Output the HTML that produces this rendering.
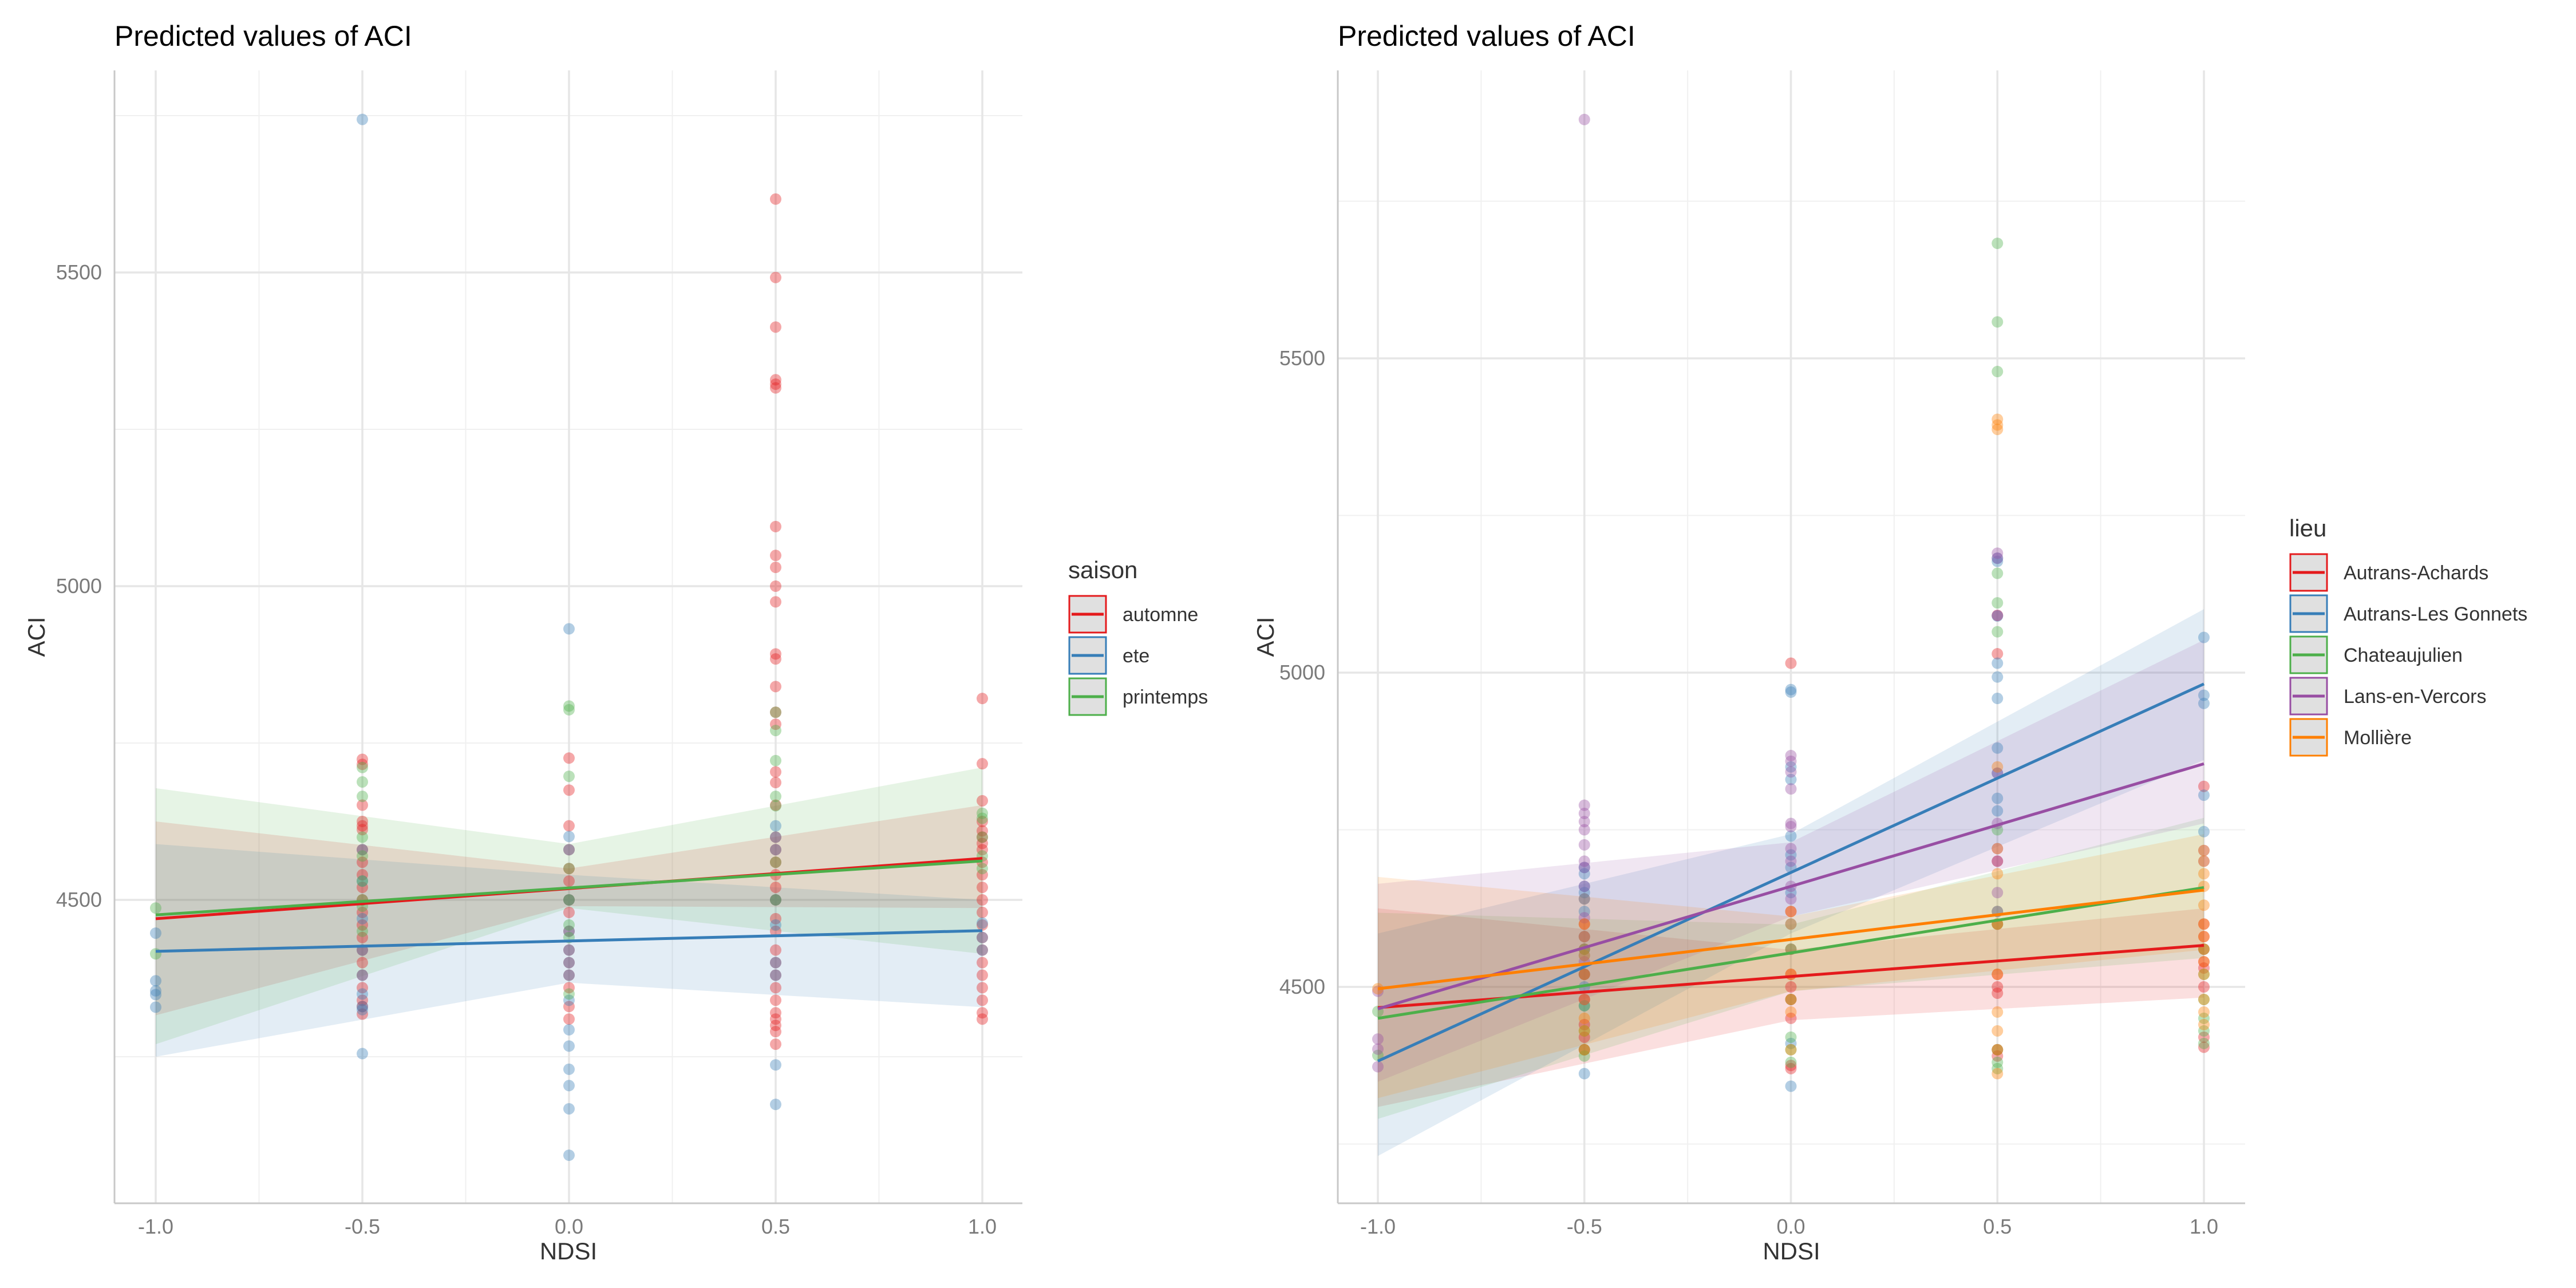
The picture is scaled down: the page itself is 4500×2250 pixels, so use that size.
<!DOCTYPE html>
<html><head><meta charset="utf-8"><style>
html,body{margin:0;padding:0;background:#fff}
svg{display:block;font-family:"Liberation Sans",sans-serif}
</style></head><body>
<svg id="chart" width="4500" height="2250" viewBox="0 0 4500 2250"></svg>
<script>
const xCats = [-1, -0.5, 0, 0.5, 1];
const xTickLabels = ["-1.0","-0.5","0.0","0.5","1.0"];
const yTickValues = [4500, 5000, 5500];
const yTickLabels = ["4500","5000","5500"];
const yMinorValues = [4250, 4750, 5250, 5750];

// LEFT: saison
const leftSeries = ["automne","ete","printemps"];
const leftColors = ["#E41A1C","#377EB8","#4DAF4A"];
const leftPredStart = [4470, 4418, 4476];
const leftPredEnd = [4566, 4451, 4562];
const leftUpper = [[4625,4550,4651],[4589,4540,4500],[4678,4589,4711]];
const leftLower = [[4316,4490,4487],[4250,4368,4329],[4270,4487,4414]];
const automnePts = [[],
 [4724,4716,4651,4625,4618,4612,4580,4560,4540,4520,4500,4480,4460,4440,4420,4400,4380,4360,4340,4330,4318],
 [4726,4675,4618,4580,4550,4530,4500,4480,4450,4420,4400,4380,4360,4330,4310],
 [5617,5492,5413,5329,5322,5316,5095,5049,5030,5000,4975,4892,4884,4840,4799,4780,4704,4687,4651,4600,4580,4560,4540,4520,4500,4470,4450,4420,4400,4380,4360,4340,4320,4310,4300,4290,4270],
 [4821,4717,4658,4625,4610,4600,4590,4580,4560,4540,4520,4500,4480,4460,4440,4420,4400,4380,4360,4340,4320,4310]];
const etePts = [[4447,4371,4355,4349,4329],
 [5744,4580,4530,4470,4420,4380,4350,4330,4325,4255],
 [4932,4601,4580,4500,4450,4420,4400,4380,4340,4293,4267,4230,4204,4167,4093],
 [4618,4600,4580,4500,4460,4400,4380,4237,4174],
 [4463,4440,4420]];
const printempsPts = [[4487,4414],
 [4711,4688,4665,4600,4570,4530,4500,4490,4450],
 [4809,4803,4697,4550,4500,4460,4440,4350],
 [4799,4770,4722,4665,4650,4560,4500],
 [4638,4630,4600,4570,4550]];
const leftPts = [automnePts, etePts, printempsPts];

// RIGHT: lieu
const rightSeries = ["Autrans-Achards","Autrans-Les Gonnets","Chateaujulien","Lans-en-Vercors","Mollière"];
const rightColors = ["#E41A1C","#377EB8","#4DAF4A","#984EA3","#FF7F00"];
const rightPredStart = [4467, 4382, 4450, 4465, 4497];
const rightPredEnd = [4566, 4982, 4658, 4855, 4654];
const rightUpper = [[4625,4559,4625],[4585,4743,5101],[4618,4599,4769],[4664,4730,5052],[4675,4612,4743]];
const rightLower = [[4309,4447,4483],[4231,4585,4861],[4290,4493,4546],[4349,4612,4760],[4323,4493,4559]];
const achardsPts = [[], [4600,4560,4520,4480,4440,4420,4400],
 [5015,4620,4560,4520,4500,4480,4450,4375,4370],
 [5091,5030,4700,4600,4520,4500,4490,4400,4390],
 [4819,4600,4580,4560,4540,4530,4500,4420,4404]];
const gonnetsPts = [[], [4690,4680,4660,4650,4620,4580,4550,4500,4470,4362],
 [4973,4969,4850,4830,4740,4710,4690,4650,4600,4410,4342],
 [5182,5177,5090,5015,4993,4959,4880,4840,4800,4780],
 [5056,4964,4951,4805,4747]];
const chateauPts = [[4461,4391], [4640,4560,4520,4470,4430,4400,4390],
 [4560,4480,4420,4400,4380],
 [5683,5558,5479,5158,5111,5065,4750,4620,4600,4400,4380,4370],
 [4560,4520,4480,4450,4430,4410]];
const lansPts = [[4493,4417,4401,4373], [5880,4789,4776,4763,4750,4726,4700,4690,4660,4640,4610,4580,4540,4520,4480],
 [4868,4859,4842,4815,4760,4755,4720,4700,4660,4640],
 [5190,5182,5091,4840,4760,4720,4700,4650,4620],
 [4717,4700]];
const molliereePts = [[4497], [4600,4580,4550,4520,4480,4450,4430,4400],
 [4620,4600,4520,4480,4460,4400],
 [5403,5394,5387,4850,4720,4680,4600,4520,4460,4430,4400,4362],
 [4717,4700,4680,4660,4630,4600,4580,4560,4540,4520,4480,4460,4440]];
const rightPts = [achardsPts, gonnetsPts, chateauPts, lansPts, molliereePts];

const NS = "http://www.w3.org/2000/svg";
const svg = document.getElementById("chart");
function mk(tag, attrs, parent) {
  const e = document.createElementNS(NS, tag);
  for (const k in attrs) e.setAttribute(k, attrs[k]);
  (parent || svg).appendChild(e);
  return e;
}

function panel(cfg) {
  const g = mk("g", {});
  
  
  const xs = v => cfg.x0 + (v + 1) / 2 * (cfg.x1 - cfg.x0);
  const ys = v => cfg.y4500 - (v - 4500) * cfg.k;
  [-0.75,-0.25,0.25,0.75].forEach(v => {
    const l = mk("line", {x1: xs(v), x2: xs(v), y1: cfg.top, y2: cfg.bottom, stroke: "#f0f0f0", "stroke-width": 2}, g);
    
    
  });
  yMinorValues.forEach(v => {
    const y = ys(v); if (y < cfg.top || y > cfg.bottom) return;
    const l = mk("line", {x1: cfg.left, x2: cfg.right, y1: y, y2: y, stroke: "#f0f0f0", "stroke-width": 2}, g);
    
    
  });
  xCats.forEach((v, i) => {
    const l = mk("line", {x1: xs(v), x2: xs(v), y1: cfg.top, y2: cfg.bottom, stroke: "#e6e6e6", "stroke-width": 3.5}, g);
    
    
    const t = mk("text", {x: xs(v), y: 2155, "text-anchor": "middle", "font-size": 36, fill: "#7a7a7a"}, g);
    t.textContent = xTickLabels[i];
    
    
  });
  yTickValues.forEach((v, i) => {
    const y = ys(v);
    const l = mk("line", {x1: cfg.left, x2: cfg.right, y1: y, y2: y, stroke: "#e6e6e6", "stroke-width": 3.5}, g);
    
    
    const t = mk("text", {x: cfg.left - 22, y: y + 12, "text-anchor": "end", "font-size": 36, fill: "#7a7a7a"}, g);
    t.textContent = yTickLabels[i];
    
    
  });
  const bx = [-1, 0, 1];
  cfg.series.forEach((s, i) => {
    let d = "";
    bx.forEach((v, j) => d += (j ? "L" : "M") + xs(v) + "," + ys(cfg.upper[i][j]));
    for (let j = 2; j >= 0; j--) d += "L" + xs(bx[j]) + "," + ys(cfg.lower[i][j]);
    const p = mk("path", {d: d + "Z", fill: cfg.colors[i], "fill-opacity": 0.14}, g);
    
    
  });
  cfg.series.forEach((s, i) => {
    cfg.pts[i].forEach((vals, j) => {
      vals.forEach(v => {
        const c = mk("circle", {cx: xs(xCats[j]), cy: ys(v), r: 10, fill: cfg.colors[i], "fill-opacity": 0.38}, g);
        
        
      });
    });
  });
  cfg.series.forEach((s, i) => {
    const l = mk("line", {x1: xs(-1), y1: ys(cfg.start[i]), x2: xs(1), y2: ys(cfg.end[i]), stroke: cfg.colors[i], "stroke-width": 5}, g);
    
    
  });
  const ax = mk("line", {x1: cfg.left, x2: cfg.left, y1: cfg.top, y2: cfg.bottom, stroke: "#c8c8c8", "stroke-width": 3}, g);
  
  
  const bx2 = mk("line", {x1: cfg.left, x2: cfg.right, y1: cfg.bottom, y2: cfg.bottom, stroke: "#c8c8c8", "stroke-width": 3}, g);
  
  
  const tt = mk("text", {x: cfg.left, y: 80, "font-size": 50, fill: "#000"}, g);
  tt.textContent = "Predicted values of ACI";
  
  
  const xt = mk("text", {x: (cfg.left + cfg.right) / 2, y: 2200, "text-anchor": "middle", "font-size": 42, fill: "#333"}, g);
  xt.textContent = "NDSI";
  
  
  const yt = mk("text", {x: 0, y: 0, "text-anchor": "middle", "font-size": 42, fill: "#333", transform: "translate(" + cfg.yTitleX + "," + (cfg.top + cfg.bottom) / 2 + ") rotate(-90)"}, g);
  yt.textContent = "ACI";
  
  
  const lg = mk("g", {}, g);
  
  
  const lt = mk("text", {x: cfg.legX, y: cfg.legY, "font-size": 42, fill: "#333"}, lg);
  lt.textContent = cfg.legTitle;
  
  
  cfg.series.forEach((s, i) => {
    const y0 = cfg.legY + 31 + i * 72;
    const r = mk("rect", {x: cfg.legX + 2, y: y0, width: 64, height: 64, fill: "#e0e0e0", stroke: cfg.colors[i], "stroke-width": 3}, lg);
    
    
    mk("line", {x1: cfg.legX + 6, x2: cfg.legX + 62, y1: y0 + 32, y2: y0 + 32, stroke: cfg.colors[i], "stroke-width": 5}, lg);
    const t = mk("text", {x: cfg.legX + 95, y: y0 + 44, "font-size": 34, fill: "#333"}, lg);
    t.textContent = s;
    
    
  });
}

panel({name: "left-panel-saison", left: 200, right: 1786, top: 123, bottom: 2102, x0: 272, x1: 1716, y4500: 1572, k: 1.096,
  series: leftSeries, colors: leftColors, start: leftPredStart, end: leftPredEnd, upper: leftUpper, lower: leftLower, pts: leftPts,
  yTitleX: 78, legX: 1866, legY: 1010, legTitle: "saison"});
panel({name: "right-panel-lieu", left: 2337, right: 3922, top: 123, bottom: 2102, x0: 2407, x1: 3850, y4500: 1724, k: 1.098,
  series: rightSeries, colors: rightColors, start: rightPredStart, end: rightPredEnd, upper: rightUpper, lower: rightLower, pts: rightPts,
  yTitleX: 2225, legX: 3999, legY: 937, legTitle: "lieu"});
</script>
</body></html>
